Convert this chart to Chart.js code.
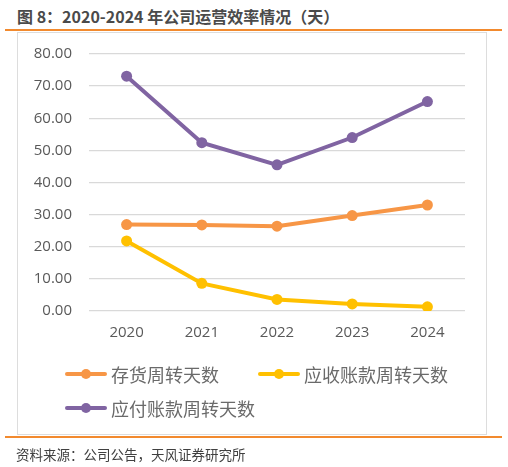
<!DOCTYPE html>
<html><head><meta charset="utf-8">
<script src="https://cdn.jsdelivr.net/npm/chart.js@4/dist/chart.umd.min.js"></script>
<style>
html,body{margin:0;padding:0;background:#fff;}
body{width:508px;height:467px;position:relative;overflow:hidden;font-family:"Noto Sans CJK SC",sans-serif;}
#title{position:absolute;left:17px;top:4px;font-size:16px;font-weight:bold;color:#4a4a4a;white-space:nowrap;}
.rule{position:absolute;left:5px;width:497px;height:2px;background:#F28A2E;}
#box{position:absolute;left:17px;top:32px;width:468px;height:401px;border:1.5px solid #DDDDDD;}
#c{position:absolute;left:18px;top:33px;}
#legend{position:absolute;left:0;top:0;width:508px;height:467px;pointer-events:none;}
.li{position:absolute;display:flex;align-items:center;font-size:18px;color:#6a6a6a;white-space:nowrap;}
.sw{position:relative;width:42px;height:12px;margin-right:4px;}
.sw .ln{position:absolute;left:0;top:4px;width:42px;height:4px;border-radius:2px;}
.sw .dt{position:absolute;left:16px;top:1px;width:10px;height:10px;border-radius:5px;}
#src{position:absolute;left:16px;top:444px;font-size:13.5px;color:#404040;white-space:nowrap;}
</style></head>
<body>
<div id="title">图 8：2020-2024 年公司运营效率情况（天）</div>
<div class="rule" style="top:29px"></div>
<div id="box"></div>
<canvas id="c" width="468" height="320"></canvas>
<div id="legend"></div>
<div class="rule" style="top:436px"></div>
<div id="src">资料来源：公司公告，天风证券研究所</div>
<script>
const categories = ["2020","2021","2022","2023","2024"];
const inventoryDays = [26.9, 26.8, 26.4, 29.7, 33.0];
const receivableDays = [21.8, 8.6, 3.6, 2.2, 1.3];
const payableDays = [73.1, 52.4, 45.5, 54.0, 65.2];
const seriesNames = ["存货周转天数","应收账款周转天数","应付账款周转天数"];
const seriesColors = ["#F79646","#FFC000","#8064A2"];
const yTicks = [0,10,20,30,40,50,60,70,80];

const seriesData = [inventoryDays, receivableDays, payableDays];
const datasets = seriesData.map((d,i)=>({
  label: seriesNames[i],
  data: d,
  borderColor: seriesColors[i],
  backgroundColor: seriesColors[i],
  borderWidth: 4,
  pointRadius: 5.5,
  pointHoverRadius: 5.5,
  pointBorderWidth: 0,
  tension: 0,
  fill: false
}));
datasets.reverse();

new Chart(document.getElementById('c'), {
  type: 'line',
  data: { labels: categories, datasets },
  options: {
    responsive: false,
    animation: false,
    layout: { padding: { top: 21, right: 21, left: 0, bottom: 0 } },
    plugins: { legend: { display: false }, tooltip: { enabled: false } },
    scales: {
      x: {
        offset: true,
        grid: { display: false, drawTicks: false },
        border: { display: false },
        ticks: { color: '#595959', font: { family: 'Open Sans', size: 15 }, padding: 13 },
        afterFit: s => { s.height = 42; s.paddingLeft = 0; s.paddingRight = 0; }
      },
      y: {
        min: yTicks[0], max: yTicks[yTicks.length-1],
        afterBuildTicks: s => { s.ticks = yTicks.map(v=>({value:v})); },
        grid: { color: '#D9D9D9', lineWidth: 1.3, drawTicks: false },
        border: { display: false },
        ticks: { color: '#595959', font: { family: 'Open Sans', size: 15 }, padding: 17,
                 callback: v => Number(v).toFixed(2) },
        afterFit: s => { s.width = 71; s.paddingTop = 0; s.paddingBottom = 0; }
      }
    }
  }
});

// HTML legend
const legendPos = [[65,374],[258,374],[65,408]];
const lg = document.getElementById('legend');
seriesNames.forEach((n,i)=>{
  const el = document.createElement('div');
  el.className='li';
  el.style.left = legendPos[i][0]+'px';
  el.style.top = (legendPos[i][1]-13)+'px';
  el.style.height='26px';
  el.innerHTML = '<div class="sw"><div class="ln" style="background:'+seriesColors[i]+'"></div><div class="dt" style="background:'+seriesColors[i]+'"></div></div><span>'+n+'</span>';
  lg.appendChild(el);
});
</script>
</body></html>
